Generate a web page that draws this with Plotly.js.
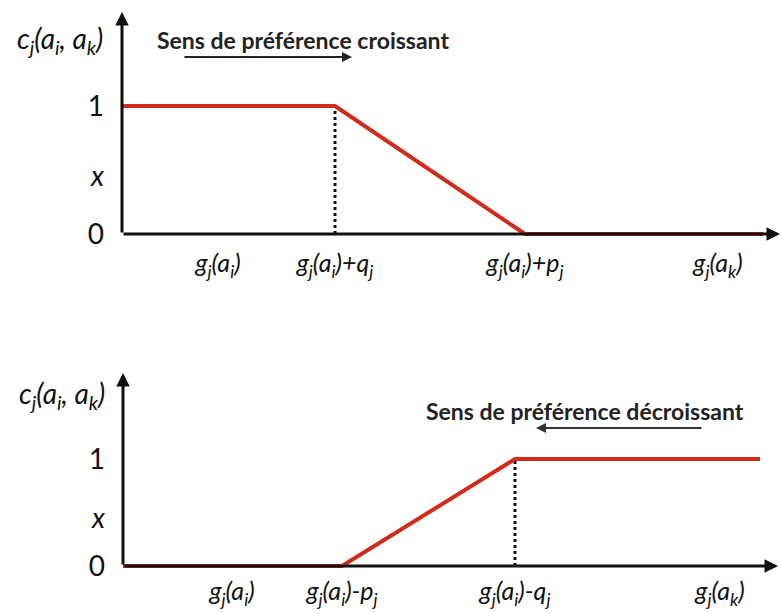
<!DOCTYPE html>
<html>
<head>
<meta charset="utf-8">
<script src="https://cdn.plot.ly/plotly-3.0.1.min.js"></script>
<style>html,body{margin:0;padding:0;background:#fff;}#chart{width:782px;height:613px;}</style>
</head>
<body>
<div id="chart"></div>
<script>
// ---- data ----
var topX = [0, 21.3, 40.3, 64.1];
var topY = [1, 1, 0, 0];
var topTickVals = [9.6, 21.3, 40.3, 59.6];
var topTickText = ['<i>g<sub>j</sub>(a<sub>i</sub>)</i>', '<i>g<sub>j</sub>(a<sub>i</sub>)+q<sub>j</sub></i>', '<i>g<sub>j</sub>(a<sub>i</sub>)+p<sub>j</sub></i>', '<i>g<sub>j</sub>(a<sub>k</sub>)</i>'];
var topIndiffX = [21.3, 21.3];
var bottomX = [0, 21.9, 39.2, 63.7];
var bottomY = [0, 0, 1, 1];
var bottomTickVals = [10.9, 21.9, 39.2, 59.7];
var bottomTickText = ['<i>g<sub>j</sub>(a<sub>i</sub>)</i>', '<i>g<sub>j</sub>(a<sub>i</sub>)-p<sub>j</sub></i>', '<i>g<sub>j</sub>(a<sub>i</sub>)-q<sub>j</sub></i>', '<i>g<sub>j</sub>(a<sub>k</sub>)</i>'];
var bottomIndiffX = [39.2, 39.2];
var indiffY = [0, 1];
var yTickVals = [0, 0.45, 1];
var yTickText = ['0', '<i>x</i>', '1'];
var yTitle = '<i>c<sub>j</sub>(a<sub>i</sub>, a<sub>k</sub>)</i>';
var topHeading = 'Sens de préférence croissant';
var bottomHeading = 'Sens de préférence décroissant';

var RED = '#d42a1a';
var FONT = 'Lato, "Open Sans", sans-serif';

var traces = [
  {x: topIndiffX, y: indiffY, xaxis: 'x', yaxis: 'y', mode: 'lines', line: {color: '#111', width: 3, dash: 'dot'}, hoverinfo: 'skip'},
  {x: topX, y: topY, xaxis: 'x', yaxis: 'y', mode: 'lines', line: {color: RED, width: 4}, hoverinfo: 'skip'},
  {x: bottomIndiffX, y: indiffY, xaxis: 'x2', yaxis: 'y2', mode: 'lines', line: {color: '#111', width: 3, dash: 'dot'}, hoverinfo: 'skip'},
  {x: bottomX, y: bottomY, xaxis: 'x2', yaxis: 'y2', mode: 'lines', line: {color: RED, width: 4}, hoverinfo: 'skip'}
];

var W = 782, H = 613;
function xAxisCfg(dom, vals, text, anchor, standoff) {
  return {domain: dom, anchor: anchor, range: [-0.5, 65.9], showgrid: false, zeroline: false, showline: false,
    tickmode: 'array', tickvals: vals, ticktext: text, ticks: '', ticklabelstandoff: standoff,
    tickfont: {family: FONT, size: 25, color: '#111'}, fixedrange: true};
}
function yAxisCfg(dom, range, anchor) {
  return {domain: dom, anchor: anchor, range: range, showgrid: false, zeroline: false, showline: false,
    tickmode: 'array', tickvals: yTickVals, ticktext: yTickText, ticks: '', ticklabelstandoff: 12,
    tickfont: {family: FONT, size: 28, color: '#111'}, fixedrange: true};
}

function axisArrow(xr, yr, x, y, ax, ay) {
  return {xref: xr, yref: yr, axref: xr, ayref: yr, x: x, y: y, ax: ax, ay: ay, text: '',
    showarrow: true, arrowhead: 2, arrowsize: 0.9, arrowwidth: 3, arrowcolor: '#111'};
}
function label(px, py, text, size, color) {
  return {xref: 'paper', yref: 'paper', x: px / W, y: 1 - py / H, xanchor: 'center', yanchor: 'middle',
    text: text, showarrow: false, font: {family: FONT, size: size, color: color}};
}

var layout = {
  width: W, height: H,
  margin: {l: 0, r: 0, t: 0, b: 0},
  paper_bgcolor: '#fff', plot_bgcolor: 'rgba(0,0,0,0)',
  showlegend: false,
  xaxis: xAxisCfg([117 / W, 781 / W], topTickVals, topTickText, 'y', 6),
  yaxis: yAxisCfg([1 - 240.4 / H, 1 - 10 / H], [-0.05, 1.75], 'x'),
  xaxis2: xAxisCfg([118 / W, 1], bottomTickVals, bottomTickText, 'y2', 3),
  yaxis2: yAxisCfg([1 - 571.35 / H, 1 - 371.3 / H], [-0.05, 1.82], 'x2'),
  annotations: [
    axisArrow('x', 'y', 0, 1.734, 0, 0),
    axisArrow('x', 'y', 65.8, 0, 0, 0),
    axisArrow('x2', 'y2', 0, 1.804, 0, 0),
    axisArrow('x2', 'y2', 65.5, 0, 0, 0),
    label(60, 40, yTitle, 28, '#111'),
    label(62, 395, yTitle, 28, '#111'),
    label(303, 40, '<b>' + topHeading + '</b>', 23, '#222'),
    label(585, 411, '<b>' + bottomHeading + '</b>', 23, '#222'),
    {xref: 'paper', yref: 'paper', axref: 'paper', ayref: 'paper', x: 352 / W, y: 1 - 57 / H, ax: 183 / W, ay: 1 - 57 / H,
      text: '', showarrow: true, arrowhead: 2, arrowsize: 1, arrowwidth: 2, arrowcolor: '#222'},
    {xref: 'paper', yref: 'paper', axref: 'paper', ayref: 'paper', x: 536 / W, y: 1 - 428 / H, ax: 703 / W, ay: 1 - 428 / H,
      text: '', showarrow: true, arrowhead: 2, arrowsize: 1, arrowwidth: 2, arrowcolor: '#333'}
  ]
};

Plotly.newPlot('chart', traces, layout, {staticPlot: true, displayModeBar: false});
</script>
</body>
</html>
